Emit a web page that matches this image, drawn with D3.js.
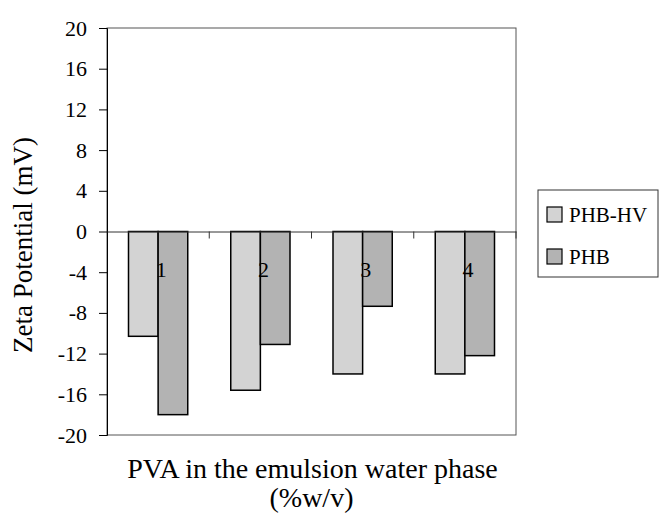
<!DOCTYPE html>
<html>
<head>
<meta charset="utf-8">
<script src="https://cdn.jsdelivr.net/npm/d3@7/dist/d3.min.js"></script>
<style>
  body { margin: 0; background: #fff; }
  svg text { font-family: "Times New Roman", "Liberation Serif", serif; fill: #000; }
</style>
</head>
<body>
<div id="chart"></div>
<script>
const categories = ["1", "2", "3", "4"];
const seriesNames = ["PHB-HV", "PHB"];
const phbhv = [-10.3, -15.6, -14.0, -14.0];
const phb = [-18.0, -11.1, -7.35, -12.2];
const yTicks = [20, 16, 12, 8, 4, 0, -4, -8, -12, -16, -20];
const colors = ["#d3d3d3", "#b3b3b3"];

const serif = "'Times New Roman', 'Liberation Serif', serif";
const width = 659, height = 514;
const plot = {left: 107, right: 516, top: 28, bottom: 435};

const svg = d3.select("#chart").append("svg")
    .attr("width", width)
    .attr("height", height);

const y = d3.scaleLinear().domain([-20, 20]).range([plot.bottom, plot.top]);
const x = d3.scaleBand().domain(categories).range([plot.left, plot.right]);
const inner = d3.scaleBand().domain(seriesNames)
    .range([21.5, x.bandwidth() - 21.5]);

// plot border
svg.append("rect")
    .attr("x", plot.left).attr("y", plot.top)
    .attr("width", plot.right - plot.left).attr("height", plot.bottom - plot.top)
    .attr("fill", "none").attr("stroke", "#555").attr("stroke-width", 1);

// y axis
const yAxis = d3.axisLeft(y).tickValues(yTicks).tickSize(8).tickPadding(12)
    .tickFormat(d => String(d));
const yg = svg.append("g").attr("transform", `translate(${plot.left},0)`).call(yAxis)
    .attr("font-family", serif).attr("font-size", 22);
yg.select(".domain").attr("stroke", "#000");
yg.selectAll(".tick line").attr("stroke", "#000");
yg.selectAll(".tick text").attr("font-family", serif).style("font-size", "22px");

// bars
const rows = categories.map((c, i) => ({cat: c, vals: [phbhv[i], phb[i]]}));
const groups = svg.append("g").selectAll("g").data(rows).join("g")
    .attr("transform", d => `translate(${x(d.cat)},0)`);
groups.selectAll("rect")
    .data(d => d.vals.map((v, j) => ({name: seriesNames[j], v, j})))
    .join("rect")
    .attr("x", d => inner(d.name))
    .attr("width", inner.bandwidth())
    .attr("y", d => Math.min(y(0), y(d.v)))
    .attr("height", d => Math.abs(y(d.v) - y(0)))
    .attr("fill", d => colors[d.j])
    .attr("stroke", "#000")
    .attr("stroke-width", 1.5);

// zero axis with category ticks
const xAxis = d3.axisBottom(x).tickSize(0).tickFormat("");
const xg = svg.append("g").attr("transform", `translate(0,${y(0)})`).call(xAxis);
xg.select(".domain").attr("stroke", "#333");
xg.selectAll("line.cat").data(categories.slice(1).concat(["end"])).join("line")
    .attr("class", "cat")
    .attr("x1", d => d === "end" ? plot.right : x(d))
    .attr("x2", d => d === "end" ? plot.right : x(d))
    .attr("y1", 0).attr("y2", 7)
    .attr("stroke", "#333");

// category labels (drawn over the bars, like the original)
svg.append("g").selectAll("text").data(categories).join("text")
    .attr("x", d => x(d) + x.bandwidth() / 2 + 3)
    .attr("y", y(0) + 45)
    .attr("text-anchor", "middle")
    .attr("font-family", serif)
    .style("font-size", "22px")
    .text(d => d);

// axis titles
svg.append("text")
    .attr("transform", `translate(32,245) rotate(-90)`)
    .attr("text-anchor", "middle")
    .attr("font-family", serif)
    .style("font-size", "27px")
    .text("Zeta Potential (mV)");

svg.append("text")
    .attr("x", (plot.left + plot.right) / 2 + 1)
    .attr("y", 478)
    .attr("text-anchor", "middle")
    .attr("font-family", serif)
    .style("font-size", "28px")
    .text("PVA in the emulsion water phase");
svg.append("text")
    .attr("x", (plot.left + plot.right) / 2)
    .attr("y", 507)
    .attr("text-anchor", "middle")
    .attr("font-family", serif)
    .style("font-size", "28px")
    .text("(%w/v)");

// legend
const legend = svg.append("g").attr("transform", "translate(538,190)");
legend.append("rect")
    .attr("width", 120).attr("height", 87)
    .attr("fill", "#fff").attr("stroke", "#333");
const items = legend.selectAll("g").data(seriesNames).join("g")
    .attr("transform", (d, i) => `translate(9,${17 + i * 42})`);
items.append("rect")
    .attr("width", 15).attr("height", 15)
    .attr("fill", (d, i) => colors[i])
    .attr("stroke", "#000").attr("stroke-width", 1.2);
items.append("text")
    .attr("x", 22).attr("y", 15)
    .attr("font-family", serif)
    .style("font-size", "21px")
    .text(d => d);
</script>
</body>
</html>
